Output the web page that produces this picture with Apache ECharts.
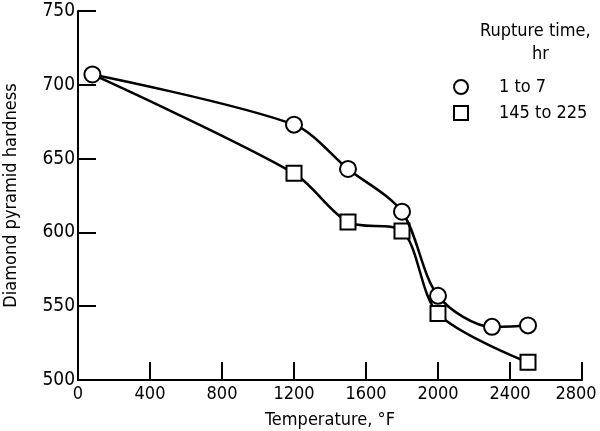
<!DOCTYPE html>
<html>
<head>
<meta charset="utf-8">
<script src="https://cdn.jsdelivr.net/npm/echarts@6/dist/echarts.min.js"></script>
<style>
  html, body { margin: 0; padding: 0; background: #fff; }
  #chart { width: 600px; height: 431px; }
</style>
</head>
<body>
<div id="chart"></div>
<script>
// temperature, F  /  hardness (DPH)
var shortTemps = [80, 1200, 1500, 1800, 2000, 2300, 2500];
var shortHard = [707, 673, 643, 614, 557, 536, 537];
var longTemps = [80, 1200, 1500, 1800, 2000, 2500];
var longHard = [707, 640, 607, 601, 545, 512];
var xTicks = [0, 400, 800, 1200, 1600, 2000, 2400, 2800];
var yTicks = [500, 550, 600, 650, 700, 750];

var font = '"Liberation Sans Narrow", "DejaVu Sans Condensed", sans-serif';

function pairs(xs, ys) {
  return xs.map(function (x, i) { return [x, ys[i]]; });
}

var longData = pairs(longTemps, longHard).map(function (p, i) {
  // first point is shared with the circle series, no marker of its own
  return i === 0 ? { value: p, symbol: 'none' } : p;
});

var xMax = xTicks[xTicks.length - 1];

var chart = echarts.init(document.getElementById('chart'));
chart.setOption({
  animation: false,
  backgroundColor: '#fff',
  textStyle: { fontFamily: font, color: '#000' },
  grid: { left: 78, right: 18, top: 11, bottom: 51, containLabel: false, outerBoundsMode: 'none' },
  legend: {
    orient: 'vertical',
    left: 448,
    top: 73,
    itemWidth: 14,
    itemHeight: 14,
    itemGap: 8,
    textStyle: { fontFamily: font, fontSize: 18, color: '#000', padding: [0, 0, 0, 26] },
    data: [
      { name: '1 to 7', icon: 'circle' },
      { name: '145 to 225', icon: 'rect' }
    ]
  },
  graphic: [
    { type: 'text', left: 480, top: 22, style: { text: 'Rupture time,', font: '18px ' + font, fill: '#000' } },
    { type: 'text', left: 532, top: 45, style: { text: 'hr', font: '18px ' + font, fill: '#000' } }
  ],
  xAxis: {
    type: 'value',
    min: xTicks[0],
    max: xMax,
    interval: 400,
    name: 'Temperature, \u00b0F',
    nameLocation: 'middle',
    nameGap: 31,
    nameTextStyle: { fontFamily: font, fontSize: 18, color: '#000' },
    axisLine: { lineStyle: { color: '#000', width: 2 } },
    axisTick: { inside: true, length: 18, lineStyle: { color: '#000', width: 2 } },
    axisLabel: {
      fontFamily: font, fontSize: 18, color: '#000', margin: 5,
      formatter: function (v) { return v === xMax ? '{last|' + v + '}' : String(v); },
      rich: { last: { fontFamily: font, fontSize: 18, color: '#000', padding: [0, 12, 0, 0] } }
    },
    splitLine: { show: false }
  },
  yAxis: {
    type: 'value',
    min: yTicks[0],
    max: yTicks[yTicks.length - 1],
    interval: 50,
    name: 'Diamond pyramid hardness',
    nameLocation: 'middle',
    nameGap: 58,
    nameTextStyle: { fontFamily: font, fontSize: 18, color: '#000' },
    axisLine: { show: true, lineStyle: { color: '#000', width: 2 } },
    axisTick: { show: true, inside: true, length: 18, lineStyle: { color: '#000', width: 2 } },
    axisLabel: { fontFamily: font, fontSize: 19, color: '#000', margin: 3, formatter: function (v) { return String(v); } },
    splitLine: { show: false }
  },
  series: [
    {
      name: '1 to 7',
      type: 'line',
      data: pairs(shortTemps, shortHard),
      smooth: 0.3,
      symbol: 'circle',
      symbolSize: 16,
      lineStyle: { color: '#000', width: 2.5 },
      itemStyle: { color: '#fff', borderColor: '#000', borderWidth: 2 },
      z: 3
    },
    {
      name: '145 to 225',
      type: 'line',
      data: longData,
      smooth: 0.3,
      symbol: 'rect',
      symbolSize: 15,
      lineStyle: { color: '#000', width: 2.5 },
      itemStyle: { color: '#fff', borderColor: '#000', borderWidth: 2 },
      z: 2
    }
  ]
});
</script>
</body>
</html>
